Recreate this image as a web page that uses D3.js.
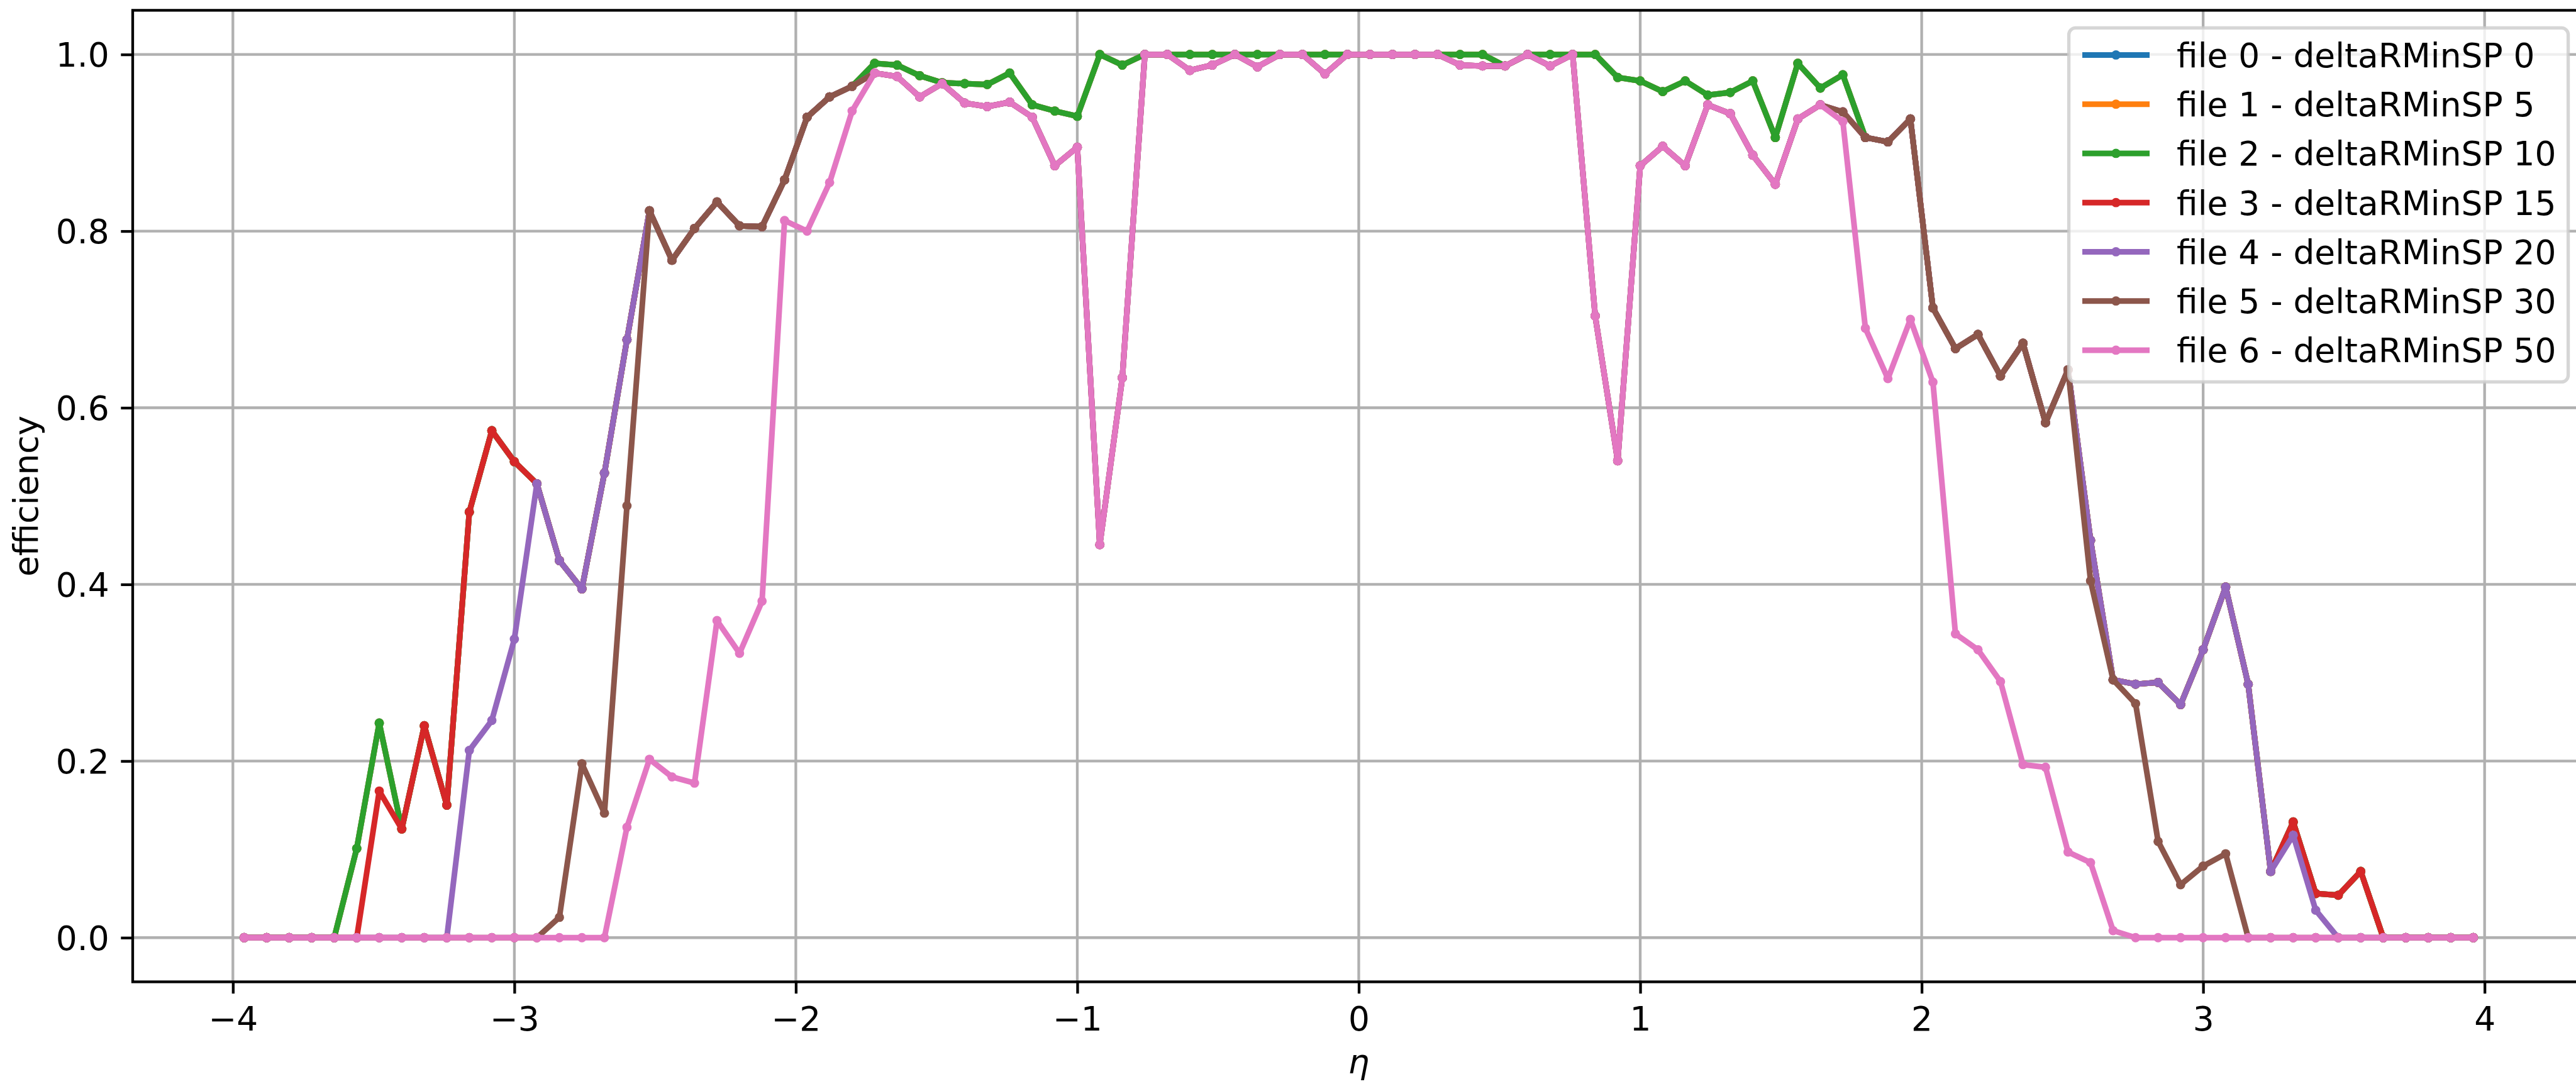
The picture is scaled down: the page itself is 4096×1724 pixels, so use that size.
<!DOCTYPE html>
<html>
<head>
<meta charset="utf-8">
<script src="https://cdn.jsdelivr.net/npm/d3@7"></script>
<style>
  body { margin: 0; background: #fff; }
  svg text { font-family: "DejaVu Sans", sans-serif; fill: #000; }
</style>
</head>
<body>
<svg id="chart"></svg>
<script>
// bin centres in eta
const eta = [-3.96, -3.88, -3.80, -3.72, -3.64, -3.56, -3.48, -3.40, -3.32, -3.24,
  -3.16, -3.08, -3.00, -2.92, -2.84, -2.76, -2.68, -2.60, -2.52, -2.44,
  -2.36, -2.28, -2.20, -2.12, -2.04, -1.96, -1.88, -1.80, -1.72, -1.64,
  -1.56, -1.48, -1.40, -1.32, -1.24, -1.16, -1.08, -1.00, -0.92, -0.84,
  -0.76, -0.68, -0.60, -0.52, -0.44, -0.36, -0.28, -0.20, -0.12, -0.04,
  0.04, 0.12, 0.20, 0.28, 0.36, 0.44, 0.52, 0.60, 0.68, 0.76,
  0.84, 0.92, 1.00, 1.08, 1.16, 1.24, 1.32, 1.40, 1.48, 1.56,
  1.64, 1.72, 1.80, 1.88, 1.96, 2.04, 2.12, 2.20, 2.28, 2.36,
  2.44, 2.52, 2.60, 2.68, 2.76, 2.84, 2.92, 3.00, 3.08, 3.16,
  3.24, 3.32, 3.40, 3.48, 3.56, 3.64, 3.72, 3.80, 3.88, 3.96];

// efficiency per file (deltaRMinSP 0, 5, 10 overlap completely)
const file0 = [0, 0, 0, 0, 0, 0.101, 0.243, 0.123, 0.240, 0.150,
  0.482, 0.574, 0.539, 0.514, 0.427, 0.395, 0.526, 0.677, 0.823, 0.767,
  0.803, 0.833, 0.806, 0.805, 0.858, 0.929, 0.952, 0.964, 0.990, 0.988,
  0.976, 0.968, 0.967, 0.966, 0.979, 0.943, 0.936, 0.930, 1.000, 0.988,
  1.000, 1.000, 1.000, 1.000, 1.000, 1.000, 1.000, 1.000, 1.000, 1.000,
  1.000, 1.000, 1.000, 1.000, 1.000, 1.000, 0.987, 1.000, 1.000, 1.000,
  1.000, 0.974, 0.970, 0.958, 0.970, 0.954, 0.957, 0.970, 0.906, 0.990,
  0.962, 0.977, 0.906, 0.901, 0.927, 0.713, 0.667, 0.683, 0.636, 0.673,
  0.583, 0.643, 0.450, 0.292, 0.287, 0.289, 0.264, 0.326, 0.397, 0.287,
  0.075, 0.131, 0.050, 0.048, 0.075, 0, 0, 0, 0, 0];

const file1 = [0, 0, 0, 0, 0, 0.101, 0.243, 0.123, 0.240, 0.150,
  0.482, 0.574, 0.539, 0.514, 0.427, 0.395, 0.526, 0.677, 0.823, 0.767,
  0.803, 0.833, 0.806, 0.805, 0.858, 0.929, 0.952, 0.964, 0.990, 0.988,
  0.976, 0.968, 0.967, 0.966, 0.979, 0.943, 0.936, 0.930, 1.000, 0.988,
  1.000, 1.000, 1.000, 1.000, 1.000, 1.000, 1.000, 1.000, 1.000, 1.000,
  1.000, 1.000, 1.000, 1.000, 1.000, 1.000, 0.987, 1.000, 1.000, 1.000,
  1.000, 0.974, 0.970, 0.958, 0.970, 0.954, 0.957, 0.970, 0.906, 0.990,
  0.962, 0.977, 0.906, 0.901, 0.927, 0.713, 0.667, 0.683, 0.636, 0.673,
  0.583, 0.643, 0.450, 0.292, 0.287, 0.289, 0.264, 0.326, 0.397, 0.287,
  0.075, 0.131, 0.050, 0.048, 0.075, 0, 0, 0, 0, 0];

const file2 = [0, 0, 0, 0, 0, 0.101, 0.243, 0.123, 0.240, 0.150,
  0.482, 0.574, 0.539, 0.514, 0.427, 0.395, 0.526, 0.677, 0.823, 0.767,
  0.803, 0.833, 0.806, 0.805, 0.858, 0.929, 0.952, 0.964, 0.990, 0.988,
  0.976, 0.968, 0.967, 0.966, 0.979, 0.943, 0.936, 0.930, 1.000, 0.988,
  1.000, 1.000, 1.000, 1.000, 1.000, 1.000, 1.000, 1.000, 1.000, 1.000,
  1.000, 1.000, 1.000, 1.000, 1.000, 1.000, 0.987, 1.000, 1.000, 1.000,
  1.000, 0.974, 0.970, 0.958, 0.970, 0.954, 0.957, 0.970, 0.906, 0.990,
  0.962, 0.977, 0.906, 0.901, 0.927, 0.713, 0.667, 0.683, 0.636, 0.673,
  0.583, 0.643, 0.450, 0.292, 0.287, 0.289, 0.264, 0.326, 0.397, 0.287,
  0.075, 0.131, 0.050, 0.048, 0.075, 0, 0, 0, 0, 0];

const file3 = [0, 0, 0, 0, 0, 0, 0.166, 0.123, 0.240, 0.150,
  0.482, 0.574, 0.539, 0.514, 0.427, 0.395, 0.526, 0.677, 0.823, 0.767,
  0.803, 0.833, 0.806, 0.805, 0.858, 0.929, 0.952, 0.964, 0.979, 0.975,
  0.952, 0.967, 0.945, 0.941, 0.946, 0.929, 0.874, 0.895, 0.445, 0.634,
  1.000, 1.000, 0.982, 0.988, 1.000, 0.986, 1.000, 1.000, 0.978, 1.000,
  1.000, 1.000, 1.000, 1.000, 0.988, 0.987, 0.987, 1.000, 0.987, 1.000,
  0.704, 0.540, 0.874, 0.896, 0.874, 0.943, 0.933, 0.886, 0.853, 0.927,
  0.943, 0.935, 0.906, 0.901, 0.927, 0.713, 0.667, 0.683, 0.636, 0.673,
  0.583, 0.643, 0.450, 0.292, 0.287, 0.289, 0.264, 0.326, 0.397, 0.287,
  0.075, 0.131, 0.050, 0.048, 0.075, 0, 0, 0, 0, 0];

const file4 = [0, 0, 0, 0, 0, 0, 0, 0, 0, 0,
  0.212, 0.246, 0.338, 0.514, 0.427, 0.395, 0.526, 0.677, 0.823, 0.767,
  0.803, 0.833, 0.806, 0.805, 0.858, 0.929, 0.952, 0.964, 0.979, 0.975,
  0.952, 0.967, 0.945, 0.941, 0.946, 0.929, 0.874, 0.895, 0.445, 0.634,
  1.000, 1.000, 0.982, 0.988, 1.000, 0.986, 1.000, 1.000, 0.978, 1.000,
  1.000, 1.000, 1.000, 1.000, 0.988, 0.987, 0.987, 1.000, 0.987, 1.000,
  0.704, 0.540, 0.874, 0.896, 0.874, 0.943, 0.933, 0.886, 0.853, 0.927,
  0.943, 0.935, 0.906, 0.901, 0.927, 0.713, 0.667, 0.683, 0.636, 0.673,
  0.583, 0.643, 0.450, 0.292, 0.287, 0.289, 0.264, 0.326, 0.397, 0.287,
  0.075, 0.116, 0.031, 0, 0, 0, 0, 0, 0, 0];

const file5 = [0, 0, 0, 0, 0, 0, 0, 0, 0, 0,
  0, 0, 0, 0, 0.023, 0.197, 0.141, 0.489, 0.823, 0.767,
  0.803, 0.833, 0.806, 0.805, 0.858, 0.929, 0.952, 0.964, 0.979, 0.975,
  0.952, 0.967, 0.945, 0.941, 0.946, 0.929, 0.874, 0.895, 0.445, 0.634,
  1.000, 1.000, 0.982, 0.988, 1.000, 0.986, 1.000, 1.000, 0.978, 1.000,
  1.000, 1.000, 1.000, 1.000, 0.988, 0.987, 0.987, 1.000, 0.987, 1.000,
  0.704, 0.540, 0.874, 0.896, 0.874, 0.943, 0.933, 0.886, 0.853, 0.927,
  0.943, 0.935, 0.906, 0.901, 0.927, 0.713, 0.667, 0.683, 0.636, 0.673,
  0.583, 0.643, 0.404, 0.292, 0.265, 0.109, 0.060, 0.081, 0.095, 0,
  0, 0, 0, 0, 0, 0, 0, 0, 0, 0];

const file6 = [0, 0, 0, 0, 0, 0, 0, 0, 0, 0,
  0, 0, 0, 0, 0, 0, 0, 0.125, 0.202, 0.182,
  0.175, 0.359, 0.322, 0.381, 0.812, 0.800, 0.855, 0.936, 0.979, 0.975,
  0.952, 0.967, 0.945, 0.941, 0.946, 0.929, 0.874, 0.895, 0.445, 0.634,
  1.000, 1.000, 0.982, 0.988, 1.000, 0.986, 1.000, 1.000, 0.978, 1.000,
  1.000, 1.000, 1.000, 1.000, 0.988, 0.987, 0.987, 1.000, 0.987, 1.000,
  0.704, 0.540, 0.874, 0.896, 0.874, 0.943, 0.933, 0.886, 0.853, 0.927,
  0.943, 0.924, 0.690, 0.633, 0.700, 0.629, 0.344, 0.326, 0.290, 0.196,
  0.193, 0.097, 0.085, 0.008, 0, 0, 0, 0, 0, 0,
  0, 0, 0, 0, 0, 0, 0, 0, 0, 0];

const seriesLabels = ['file 0 - deltaRMinSP 0', 'file 1 - deltaRMinSP 5', 'file 2 - deltaRMinSP 10',
  'file 3 - deltaRMinSP 15', 'file 4 - deltaRMinSP 20', 'file 5 - deltaRMinSP 30', 'file 6 - deltaRMinSP 50'];
const seriesColors = ['#1f77b4', '#ff7f0e', '#2ca02c', '#d62728', '#9467bd', '#8c564b', '#e377c2'];
const xTicks = [-4, -3, -2, -1, 0, 1, 2, 3, 4];
const yTicks = [0, 0.2, 0.4, 0.6, 0.8, 1.0];

class EfficiencyChart {

    constructor(_config, _series) {
        this.config = {
            parentElement: _config.parentElement,
            width: 4096,
            height: 1724,
            left: 211,
            right: 4110,   // right spine falls just outside the picture
            top: 16.4,
            bottom: 1561.5,
            fontSize: 53.4,
            tickLen: 18.7,
            lineWidth: 9,
            markerR: 7.4
        };
        this.series = _series;
        this.initVis();
    }

    initVis() {
        let vis = this;
        const c = vis.config;

        vis.svg = d3.select(c.parentElement)
            .attr('width', c.width)
            .attr('height', c.height)
            .style('display', 'block');

        vis.svg.append('rect')
            .attr('width', c.width)
            .attr('height', c.height)
            .attr('fill', '#fff');

        vis.xScale = d3.scaleLinear()
            .domain([-4.356, 4.356])
            .range([c.left, c.right]);

        vis.yScale = d3.scaleLinear()
            .domain([-0.05, 1.05])
            .range([c.bottom, c.top]);

        // grid
        vis.grid = vis.svg.append('g').attr('class', 'grid');
        vis.grid.selectAll('.gx')
            .data(xTicks)
          .join('line')
            .attr('x1', d => vis.xScale(d))
            .attr('x2', d => vis.xScale(d))
            .attr('y1', c.top)
            .attr('y2', c.bottom)
            .attr('stroke', '#b0b0b0')
            .attr('stroke-width', 4.3);
        vis.grid.selectAll('.gy')
            .data(yTicks)
          .join('line')
            .attr('x1', c.left)
            .attr('x2', c.right)
            .attr('y1', d => vis.yScale(d))
            .attr('y2', d => vis.yScale(d))
            .attr('stroke', '#b0b0b0')
            .attr('stroke-width', 4.3);

        vis.linesG = vis.svg.append('g');

        // axes
        vis.xAxis = d3.axisBottom(vis.xScale)
            .tickValues(xTicks)
            .tickSize(c.tickLen)
            .tickPadding(c.tickLen)
            .tickFormat(d => d < 0 ? '\u2212' + Math.abs(d) : d);
        vis.yAxis = d3.axisLeft(vis.yScale)
            .tickValues(yTicks)
            .tickSize(c.tickLen)
            .tickPadding(c.tickLen)
            .tickFormat(d3.format('.1f'));

        vis.xAxisG = vis.svg.append('g')
            .attr('transform', `translate(0,${c.bottom})`);
        vis.yAxisG = vis.svg.append('g')
            .attr('transform', `translate(${c.left},0)`);

        // frame
        vis.svg.append('rect')
            .attr('x', c.left)
            .attr('y', c.top)
            .attr('width', c.right - c.left)
            .attr('height', c.bottom - c.top)
            .attr('fill', 'none')
            .attr('stroke', '#000')
            .attr('stroke-width', 4.3);

        // axis labels
        vis.svg.append('text')
            .attr('x', vis.xScale(0))
            .attr('y', 1707)
            .attr('text-anchor', 'middle')
            .style('font-size', c.fontSize + 'px')
            .style('font-style', 'italic')
            .text('\u03b7');

        vis.svg.append('text')
            .attr('transform', `translate(60,${(c.top + c.bottom) / 2}) rotate(-90)`)
            .attr('text-anchor', 'middle')
            .style('font-size', c.fontSize + 'px')
            .text('efficiency');

        vis.legendG = vis.svg.append('g');
    }

    updateVis() {
        let vis = this;
        vis.line = d3.line()
            .x((d, i) => vis.xScale(eta[i]))
            .y(d => vis.yScale(d));
        vis.renderVis();
    }

    renderVis() {
        let vis = this;
        const c = vis.config;

        const groups = vis.linesG.selectAll('g.series')
            .data(vis.series)
          .join('g')
            .attr('class', 'series');

        groups.append('path')
            .attr('d', d => vis.line(d.values))
            .attr('fill', 'none')
            .attr('stroke', d => d.color)
            .attr('stroke-width', c.lineWidth)
            .attr('stroke-linejoin', 'round')
            .attr('stroke-linecap', 'square');

        groups.selectAll('circle')
            .data(d => d.values.map((v, i) => ({v, i, color: d.color})))
          .join('circle')
            .attr('cx', d => vis.xScale(eta[d.i]))
            .attr('cy', d => vis.yScale(d.v))
            .attr('r', c.markerR)
            .attr('fill', d => d.color);

        vis.xAxisG.call(vis.xAxis);
        vis.yAxisG.call(vis.yAxis);
        [vis.xAxisG, vis.yAxisG].forEach(g => {
            g.select('.domain').remove();
            g.selectAll('line').attr('stroke', '#000').attr('stroke-width', 4.3);
            g.selectAll('text')
                .attr('fill', '#000')
                .style('font-size', c.fontSize + 'px')
                .style('font-family', '"DejaVu Sans", sans-serif');
        });
        vis.xAxisG.selectAll('text').attr('dy', '0.76em');
        vis.yAxisG.selectAll('text').attr('dy', '0.36em');

        // legend
        const lx = 3289.6, ly = 44.4;
        vis.legendG.append('rect')
            .attr('x', lx)
            .attr('y', ly)
            .attr('width', 794)
            .attr('height', 563)
            .attr('rx', 10.7)
            .attr('fill', '#fff')
            .attr('fill-opacity', 0.8)
            .attr('stroke', '#cccccc')
            .attr('stroke-opacity', 0.8)
            .attr('stroke-width', 5.3);

        const rows = vis.legendG.selectAll('g.row')
            .data(vis.series)
          .join('g')
            .attr('class', 'row')
            .attr('transform', (d, i) => `translate(0,${87.4 + i * 78.25})`);

        rows.append('line')
            .attr('x1', 3311)
            .attr('x2', 3418)
            .attr('stroke', d => d.color)
            .attr('stroke-width', c.lineWidth);
        rows.append('circle')
            .attr('cx', 3364.5)
            .attr('r', c.markerR)
            .attr('fill', d => d.color);
        rows.append('text')
            .attr('x', 3461)
            .attr('y', 19.5)
            .style('font-size', c.fontSize + 'px')
            .text(d => d.label);
    }
}

const allValues = [file0, file1, file2, file3, file4, file5, file6];
const series = allValues.map((values, i) => ({
    label: seriesLabels[i],
    color: seriesColors[i],
    values: values
}));

const chart = new EfficiencyChart({parentElement: '#chart'}, series);
chart.updateVis();
</script>
</body>
</html>
